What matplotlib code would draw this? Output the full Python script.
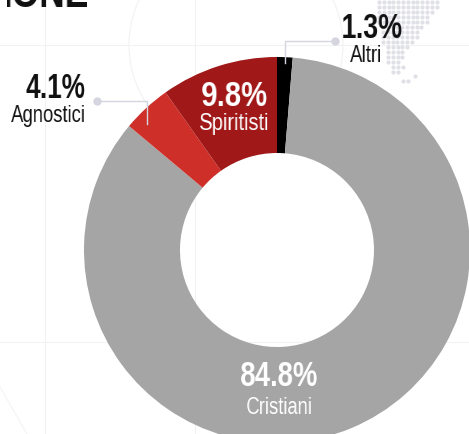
import matplotlib
matplotlib.use('Agg')
import matplotlib.pyplot as plt
import numpy as np
from matplotlib.patches import Circle

labels = ['Altri', 'Cristiani', 'Agnostici', 'Spiritisti']
values = [1.3, 84.8, 4.1, 9.8]
colors = ['#000000', '#a5a5a5', '#ce2f29', '#a01818']

# dotted map in the corner: row height, first and last dot of each row
dot_rows = [2, 7, 12, 17, 22, 27, 32, 37, 42, 47, 52, 57, 62, 67, 72]
dot_start = [379, 379, 379, 379, 379, 383, 383, 383, 383, 388, 388, 388, 388, 393, 393]
dot_end = [440, 440, 435, 430, 427, 425, 420, 420, 415, 410, 403, 403, 398, 403, 398]
extra_x = [403, 408, 415]
extra_y = [81, 81, 76]

font = ['Liberation Sans', 'DejaVu Sans']
H = 434


# no condensed font here, so squeeze the drawn text sideways around its centre
def squeeze(ratio):
    def apply(img, dpi):
        h, w = img.shape[:2]
        new_w = max(int(round(w * ratio)), 1)
        pos = np.linspace(0, w - 1, new_w)
        out = np.zeros((h, new_w, 4))
        rgb = img[np.unravel_index(np.argmax(img[..., 3]), (h, w))][:3]
        out[..., :3] = rgb
        for i in range(h):
            out[i, :, 3] = np.interp(pos, np.arange(w), img[i, :, 3])
        return out, (w - new_w) // 2, 0
    return apply


def label(x, y, s, size, color, weight='normal', ratio=0.76):
    t = ax.text(x, H - y, s, fontsize=size, fontweight=weight, family=font,
                ha='center', va='center', color=color, zorder=6)
    t.set_agg_filter(squeeze(ratio))


fig = plt.figure(figsize=(4.69, 4.34), dpi=100)
ax = fig.add_axes([0, 0, 1, 1])

# faint background lines
for x in [45, 195]:
    ax.axvline(x, color='#f2f2f4', linewidth=0.8, zorder=0)
for y in [45, 342]:
    ax.axhline(H - y, color='#f2f2f4', linewidth=0.8, zorder=0)
ax.add_patch(Circle((236, H - 45), 107, fill=False, edgecolor='#f2f2f4', linewidth=0.8, zorder=0))
ax.plot([0, 27], [H - 387, H - 434], color='#f4f4f6', linewidth=0.8, zorder=0)

for row, start, end in zip(dot_rows, dot_start, dot_end):
    xs = np.arange(start, end + 1, 4.8)
    ax.scatter(xs, [H - row] * len(xs), s=9, color='#e0e0e7', linewidths=0, zorder=1)
ax.scatter(extra_x, [H - y for y in extra_y], s=9, color='#e0e0e7', linewidths=0, zorder=1)

ax.pie(values, colors=colors, startangle=90, counterclock=False, center=(277, H - 250), radius=193,
       wedgeprops=dict(width=96, linewidth=0), frame=True)
ax.set_xlim(0, 469)
ax.set_ylim(0, H)
ax.set_aspect('auto')
ax.axis('off')

# leader lines
ax.plot([97, 147, 147], [H - 101, H - 101, H - 124], color='#d5d5e0', linewidth=1, zorder=5)
ax.plot([97], [H - 101], 'o', color='#d5d5e0', markersize=5, zorder=5)
ax.plot([335, 285, 285], [H - 41, H - 41, H - 63], color='#d5d5e0', linewidth=1, zorder=5)
ax.plot([335], [H - 41], 'o', color='#d5d5e0', markersize=5, zorder=5)

label(45, -4, 'IONE', 30, '#111111', 'bold', 0.85)

label(56, 88, '4.1%', 25, '#111111', 'bold')
label(49.5, 116, 'Agnostici', 17.5, '#111111')
label(372, 29, '1.3%', 25, '#111111', 'bold', 0.78)
label(367, 56, 'Altri', 17.5, '#111111')
label(234, 97, '9.8%', 25, 'white', 'bold', 0.84)
label(234.5, 124, 'Spiritisti', 17.5, 'white', ratio=0.83)
label(279, 376, '84.8%', 25, 'white', 'bold', 0.79)
label(279.5, 408, 'Cristiani', 17.5, 'white')

fig.savefig('out.png', dpi=100)
